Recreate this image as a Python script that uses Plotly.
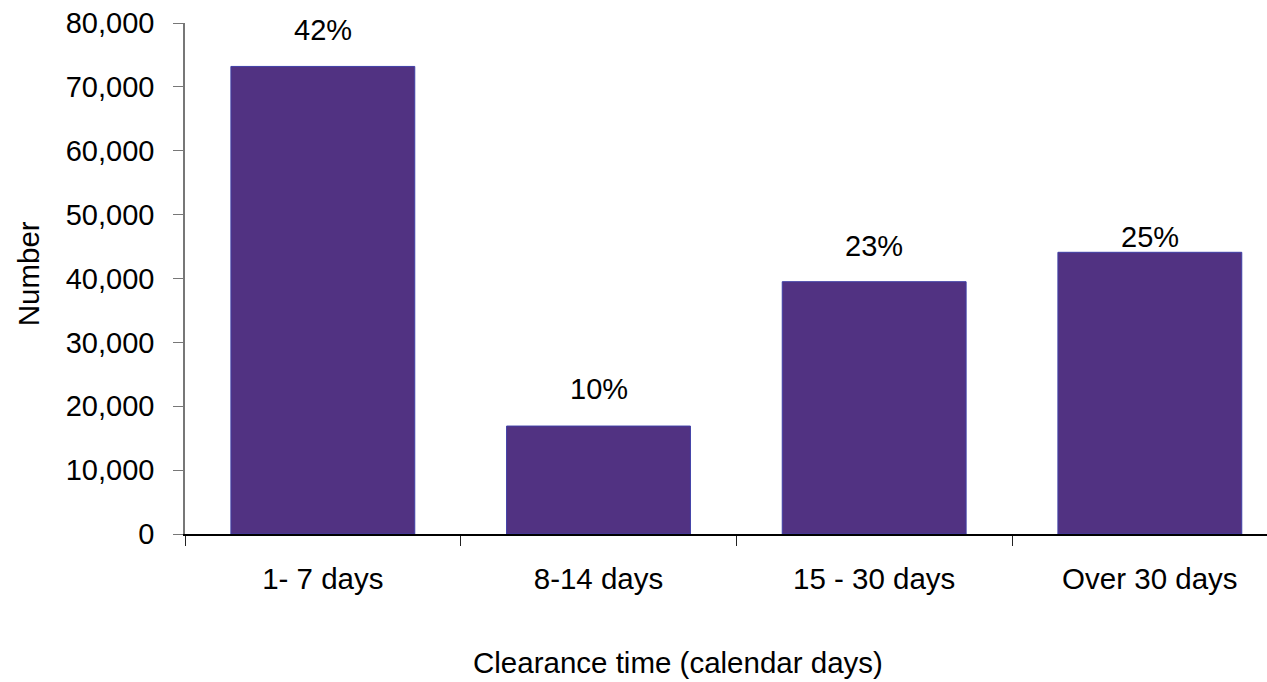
import plotly.graph_objects as go

categories = ["1- 7 days", "8-14 days", "15 - 30 days", "Over 30 days"]
values = [73200, 16900, 39500, 44100]
pct_labels = ["42%", "10%", "23%", "25%"]
y_ticks = [0, 10000, 20000, 30000, 40000, 50000, 60000, 70000, 80000]
y_tick_text = ["0", "10,000", "20,000", "30,000", "40,000", "50,000", "60,000", "70,000", "80,000"]
label_shift_px = [36, 37, 36, 15]

FONT = "Liberation Sans, Arial, sans-serif"
FS = 29

fig = go.Figure()
fig.add_trace(go.Bar(
    x=categories, y=values, width=0.667,
    marker=dict(color="#513282", line=dict(color="#3f3fa6", width=1)),
    hoverinfo="skip",
))

for c, v, t, s in zip(categories, values, pct_labels, label_shift_px):
    fig.add_annotation(x=c, y=v, xref="x", yref="y", text=t, showarrow=False,
                       yanchor="middle", yshift=s,
                       font=dict(family=FONT, size=FS, color="black"))

fig.add_annotation(x=(678 - 185) / 1082, y=(533.7 - 662) / 511, xref="paper", yref="paper",
                   text="Clearance time (calendar days)", showarrow=False,
                   xanchor="center", yanchor="middle",
                   font=dict(family=FONT, size=FS + 0.5, color="black"))
fig.add_annotation(x=(28 - 185) / 1082, y=(533.7 - 274) / 511, xref="paper", yref="paper",
                   text="Number", showarrow=False, textangle=-90,
                   xanchor="center", yanchor="middle",
                   font=dict(family=FONT, size=FS + 0.5, color="black"))

fig.update_layout(
    width=1267, height=682,
    margin=dict(l=185, r=0, t=22.7, b=148.3),
    paper_bgcolor="white", plot_bgcolor="white",
    showlegend=False,
    font=dict(family=FONT, size=FS, color="black"),
    xaxis=dict(
        type="category", range=[-0.5, 3.425], tickson="boundaries",
        ticks="outside", ticklen=10, tickcolor="#222", tickwidth=1,
        showline=True, linecolor="black", linewidth=1.5,
        showgrid=False, zeroline=False, ticklabelstandoff=18,
        tickfont=dict(family=FONT, size=FS + 0.5, color="black"),
        fixedrange=True,
    ),
    yaxis=dict(
        range=[0, 80000], tickvals=y_ticks, ticktext=y_tick_text,
        ticks="outside", ticklen=10, tickcolor="#777", tickwidth=1,
        showline=True, linecolor="#777", linewidth=1.5,
        showgrid=False, zeroline=False, ticklabelstandoff=13,
        tickfont=dict(family=FONT, size=FS, color="black"),
        fixedrange=True,
    ),
)

fig.write_html("out.html", config={"displayModeBar": False})
